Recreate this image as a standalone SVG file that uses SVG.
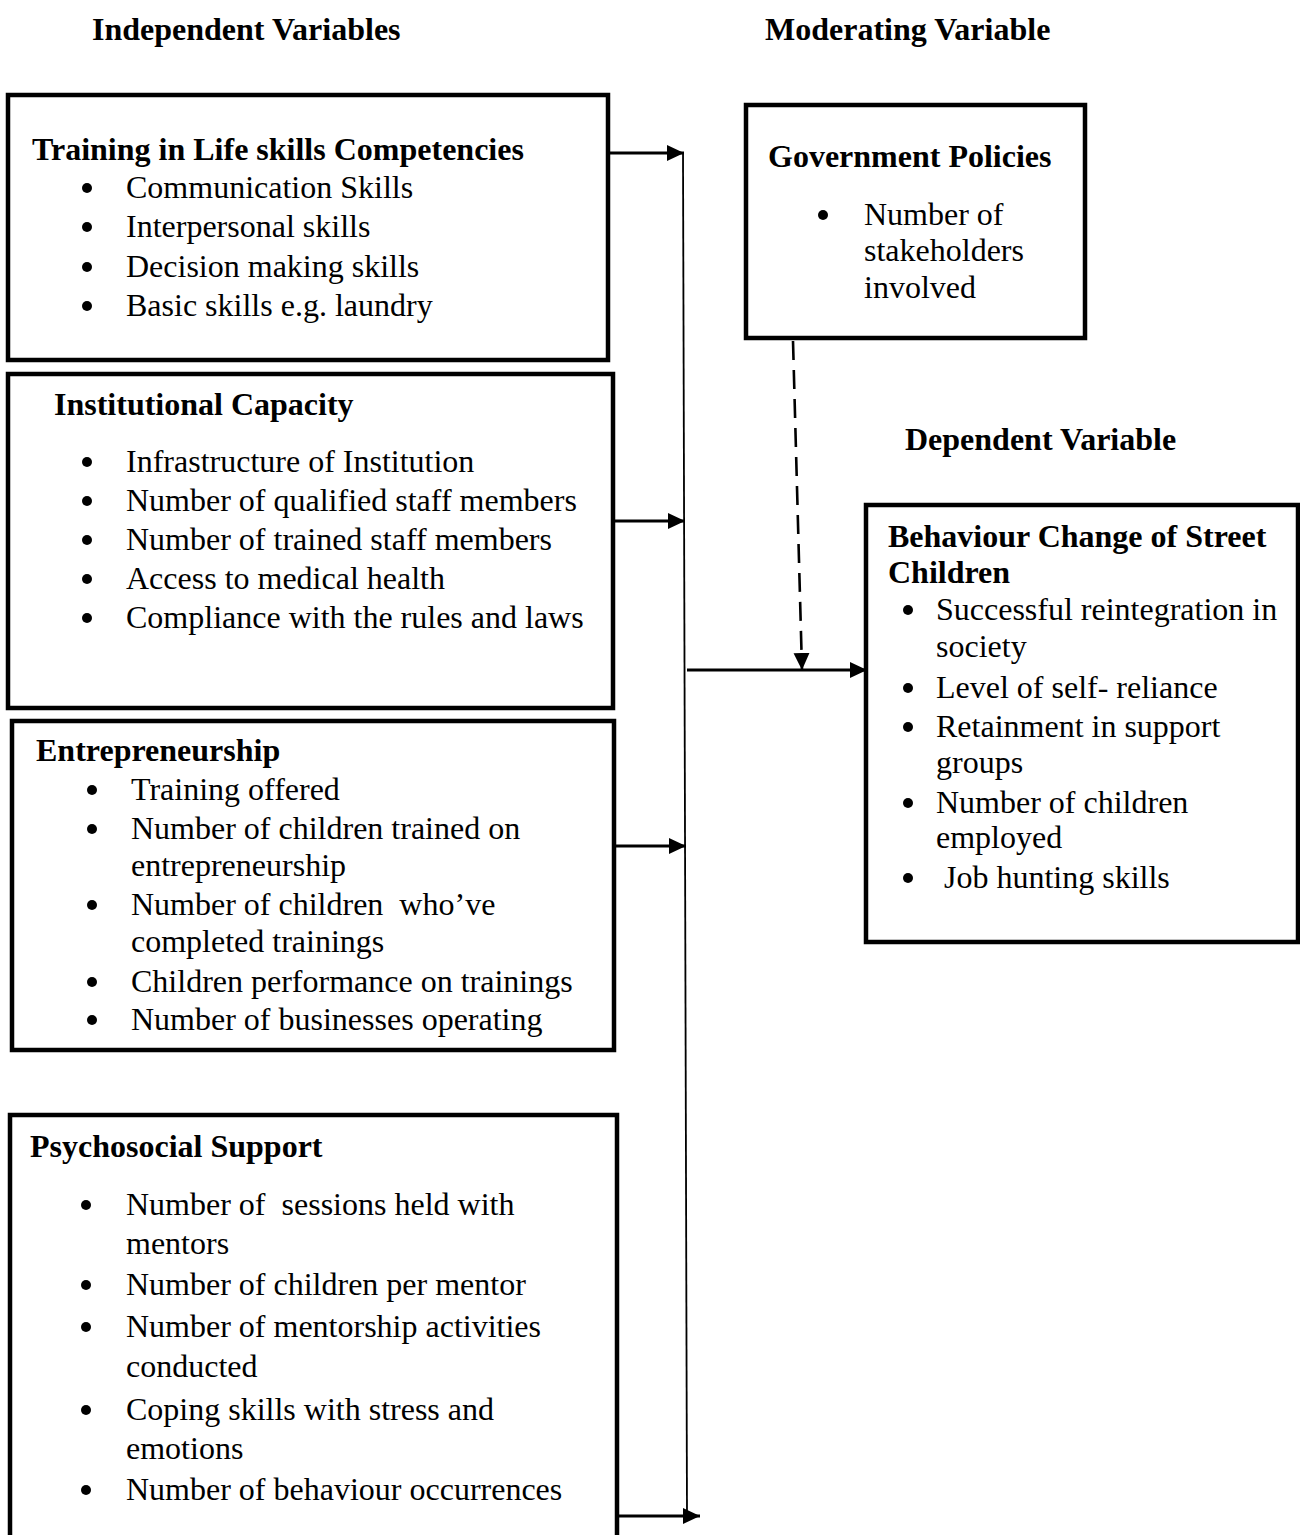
<svg xmlns="http://www.w3.org/2000/svg" width="1300" height="1535" viewBox="0 0 1300 1535">
  <defs>
    <marker id="arrow" markerUnits="userSpaceOnUse" markerWidth="20" markerHeight="20" refX="17" refY="8" orient="auto">
      <path d="M0,0 L17,8 L0,16 Z" fill="#000"/>
    </marker>
    <style>
      text { font-family: "Liberation Serif", "Times New Roman", serif; font-size: 32px; fill: #000; }
      .head { font-weight: bold; }
      .box { fill: #fff; stroke: #000; stroke-width: 4.5; }
      .dot { fill: #000; }
      .arrow { fill: none; stroke: #000; stroke-width: 2.8; marker-end: url(#arrow); }
      .spine { fill: none; stroke: #000; stroke-width: 1.8; }
      .dashed { fill: none; stroke: #000; stroke-width: 2.6; stroke-dasharray: 19 10; marker-end: url(#arrow); }
    </style>
  </defs>
  <rect width="1300" height="1535" fill="#fff"/>

  <!-- column headings -->
  <g id="headings">
    <text class="head" x="92" y="40">Independent Variables</text>
    <text class="head" x="765" y="40">Moderating Variable</text>
    <text class="head" x="905" y="450">Dependent Variable</text>
  </g>

  <!-- connectors -->
  <g id="connectors">
    <path class="spine" d="M683,152 L687,1516"/>
    <path class="arrow" d="M609,153 L684,153"/>
    <path class="arrow" d="M604,521 L685,521"/>
    <path class="arrow" d="M606,846 L686,846"/>
    <path class="arrow" d="M619,1516 L700,1516"/>
    <path class="arrow" d="M687,670 L867,670"/>
    <path class="dashed" d="M793,341 L802,670"/>
  </g>

  <g id="life-skills">
    <rect class="box" x="8" y="95" width="600" height="265"/>
    <text class="head" x="32" y="160">Training in Life skills Competencies</text>
    <circle class="dot" cx="87" cy="188" r="5"/><text x="126" y="198">Communication Skills</text>
    <circle class="dot" cx="87" cy="227" r="5"/><text x="126" y="237">Interpersonal skills</text>
    <circle class="dot" cx="87" cy="267" r="5"/><text x="126" y="277">Decision making skills</text>
    <circle class="dot" cx="87" cy="306" r="5"/><text x="126" y="316">Basic skills e.g. laundry</text>
  </g>

  <g id="institutional-capacity">
    <rect class="box" x="8" y="374" width="605" height="334"/>
    <text class="head" x="54" y="415">Institutional Capacity</text>
    <circle class="dot" cx="87" cy="462" r="5"/><text x="126" y="472">Infrastructure of Institution</text>
    <circle class="dot" cx="87" cy="501" r="5"/><text x="126" y="511">Number of qualified staff members</text>
    <circle class="dot" cx="87" cy="540" r="5"/><text x="126" y="550">Number of trained staff members</text>
    <circle class="dot" cx="87" cy="579" r="5"/><text x="126" y="589">Access to medical health</text>
    <circle class="dot" cx="87" cy="618" r="5"/><text x="126" y="628">Compliance with the rules and laws</text>
  </g>

  <g id="entrepreneurship">
    <rect class="box" x="12" y="721" width="602" height="329"/>
    <text class="head" x="36" y="761">Entrepreneurship</text>
    <circle class="dot" cx="92" cy="790" r="5"/><text x="131" y="800">Training offered</text>
    <circle class="dot" cx="92" cy="829" r="5"/><text x="131" y="839">Number of children trained on</text>
    <text x="131" y="876">entrepreneurship</text>
    <circle class="dot" cx="92" cy="905" r="5"/><text x="131" y="915" xml:space="preserve">Number of children  who’ve</text>
    <text x="131" y="952">completed trainings</text>
    <circle class="dot" cx="92" cy="982" r="5"/><text x="131" y="992">Children performance on trainings</text>
    <circle class="dot" cx="92" cy="1020" r="5"/><text x="131" y="1030">Number of businesses operating</text>
  </g>

  <g id="psychosocial-support">
    <rect class="box" x="10" y="1115" width="607" height="440"/>
    <text class="head" x="30" y="1157">Psychosocial Support</text>
    <circle class="dot" cx="86" cy="1205" r="5"/><text x="126" y="1215" xml:space="preserve">Number of  sessions held with</text>
    <text x="126" y="1254">mentors</text>
    <circle class="dot" cx="86" cy="1285" r="5"/><text x="126" y="1295">Number of children per mentor</text>
    <circle class="dot" cx="86" cy="1327" r="5"/><text x="126" y="1337">Number of mentorship activities</text>
    <text x="126" y="1377">conducted</text>
    <circle class="dot" cx="86" cy="1410" r="5"/><text x="126" y="1420">Coping skills with stress and</text>
    <text x="126" y="1459">emotions</text>
    <circle class="dot" cx="86" cy="1490" r="5"/><text x="126" y="1500">Number of behaviour occurrences</text>
  </g>

  <g id="government-policies">
    <rect class="box" x="746" y="105" width="339" height="233"/>
    <text class="head" x="768" y="167">Government Policies</text>
    <circle class="dot" cx="823" cy="215" r="5"/><text x="864" y="225">Number of</text>
    <text x="864" y="261">stakeholders</text>
    <text x="864" y="298">involved</text>
  </g>

  <g id="behaviour-change">
    <rect class="box" x="866" y="505" width="432" height="437"/>
    <text class="head" x="888" y="547">Behaviour Change of Street</text>
    <text class="head" x="888" y="583">Children</text>
    <circle class="dot" cx="908" cy="610" r="5"/><text x="936" y="620">Successful reintegration in</text>
    <text x="936" y="657">society</text>
    <circle class="dot" cx="908" cy="688" r="5"/><text x="936" y="698">Level of self- reliance</text>
    <circle class="dot" cx="908" cy="727" r="5"/><text x="936" y="737">Retainment in support</text>
    <text x="936" y="773">groups</text>
    <circle class="dot" cx="908" cy="803" r="5"/><text x="936" y="813">Number of children</text>
    <text x="936" y="848">employed</text>
    <circle class="dot" cx="908" cy="878" r="5"/><text x="936" y="888" xml:space="preserve"> Job hunting skills</text>
  </g>
</svg>
